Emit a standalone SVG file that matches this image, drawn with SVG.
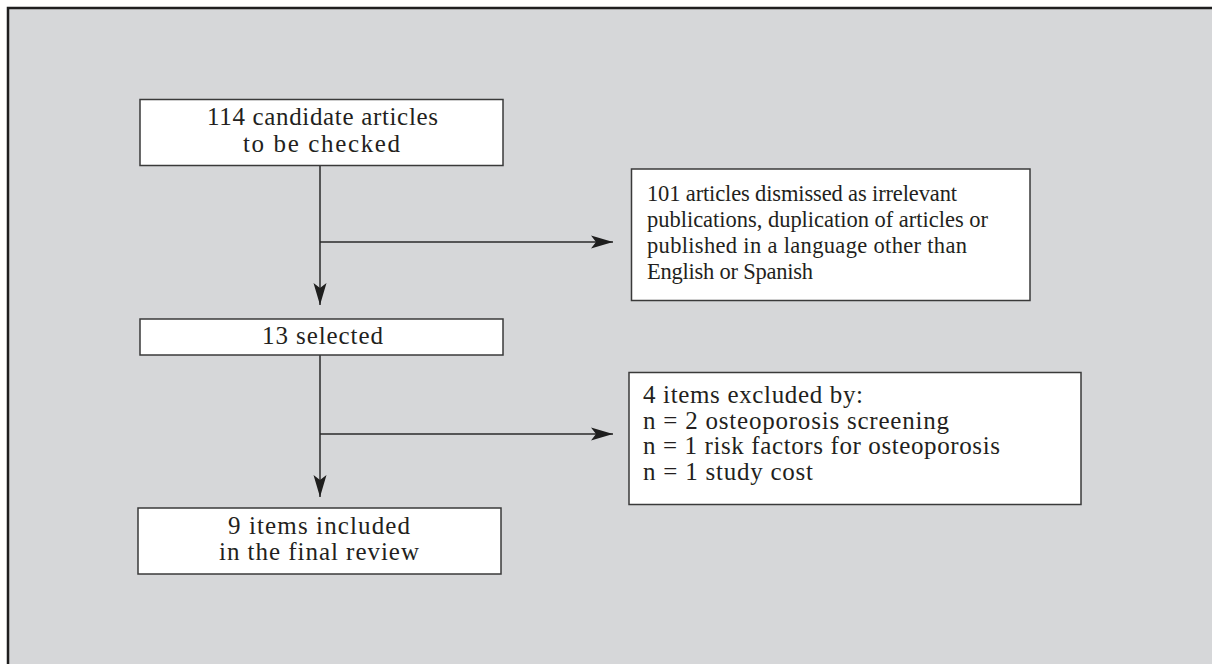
<svg xmlns="http://www.w3.org/2000/svg" width="1212" height="664" viewBox="0 0 1212 664">
<defs>
<style>
.box{fill:#ffffff;stroke:#3a3a3a;stroke-width:1.5}
.t{font-family:"Liberation Serif","Times New Roman",serif;font-size:25px;fill:#231f20}
.s{font-size:22.5px}
.ln{fill:none;stroke:#2a2a2a;stroke-width:1.5}
</style>
<marker id="ah" markerUnits="userSpaceOnUse" markerWidth="23" markerHeight="14" refX="22" refY="7" orient="auto">
<path d="M0,0.5 L22,7 L0,13.5 L5,7 Z" fill="#1e1e1e"/>
</marker>
</defs>
<rect x="0" y="0" width="1212" height="664" fill="#ffffff"/>
<rect x="8" y="8" width="1220" height="680" fill="#d6d7d9" stroke="#1f1f1f" stroke-width="2.5"/>
<g id="connectors">
<line class="ln" x1="320" y1="166" x2="320" y2="305" marker-end="url(#ah)"/>
<line class="ln" x1="320" y1="242" x2="613" y2="242" marker-end="url(#ah)"/>
<line class="ln" x1="320" y1="355" x2="320" y2="497" marker-end="url(#ah)"/>
<line class="ln" x1="320" y1="434" x2="613" y2="434" marker-end="url(#ah)"/>
</g>
<g id="n1">
<rect class="box" x="140" y="99.5" width="363" height="66"/>
<text class="t" x="207" y="125" textLength="231" lengthAdjust="spacing">114 candidate articles</text>
<text class="t" x="243" y="152" textLength="157" lengthAdjust="spacing">to be checked</text>
</g>
<g id="n2">
<rect class="box" x="631.5" y="169" width="398.5" height="131.5"/>
<text class="t s" x="647" y="201" textLength="310" lengthAdjust="spacing">101 articles dismissed as irrelevant</text>
<text class="t s" x="647" y="227" textLength="341" lengthAdjust="spacing">publications, duplication of articles or</text>
<text class="t s" x="647" y="253" textLength="320" lengthAdjust="spacing">published in a language other than</text>
<text class="t s" x="647" y="279" textLength="166" lengthAdjust="spacing">English or Spanish</text>
</g>
<g id="n3">
<rect class="box" x="140" y="319" width="363" height="36"/>
<text class="t" x="262" y="344" textLength="121" lengthAdjust="spacing">13 selected</text>
</g>
<g id="n4">
<rect class="box" x="629" y="372.5" width="452" height="132"/>
<text class="t" x="643" y="403" textLength="220" lengthAdjust="spacing">4 items excluded by:</text>
<text class="t" x="643" y="429" textLength="306" lengthAdjust="spacing">n = 2 osteoporosis screening</text>
<text class="t" x="643" y="454" textLength="357" lengthAdjust="spacing">n = 1 risk factors for osteoporosis</text>
<text class="t" x="643" y="480" textLength="170" lengthAdjust="spacing">n = 1 study cost</text>
</g>
<g id="n5">
<rect class="box" x="138" y="508" width="363" height="66"/>
<text class="t" x="228" y="534" textLength="182" lengthAdjust="spacing">9 items included</text>
<text class="t" x="219" y="560" textLength="200" lengthAdjust="spacing">in the final review</text>
</g>
</svg>
